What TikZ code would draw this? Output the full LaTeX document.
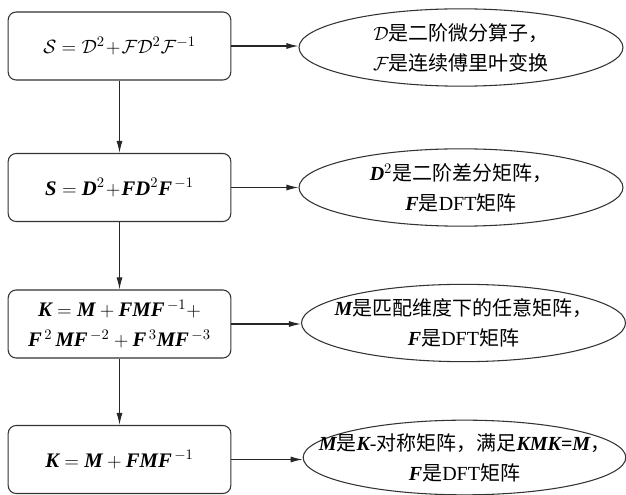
\documentclass[tikz,border=0pt]{standalone}
\usepackage{amsmath}
\usepackage{fontspec}
\setmainfont{Liberation Serif}
\newfontfamily\cjk{Noto Sans CJK SC}
\usetikzlibrary{shapes.geometric,arrows.meta}
\newcommand{\bfit}[1]{\text{\rmfamily\bfseries\itshape #1}}
\newcommand{\mplus}{\mathbin{\!+\!}}
\tikzset{
  stepbox/.style={draw=black!80, line width=0.8pt, rounded corners=6pt,
    minimum width=167pt, minimum height=51pt, inner sep=2pt, align=center,
    font=\fontsize{15.5}{22.5}\selectfont},
  note/.style={draw=black!80, line width=0.8pt, ellipse, inner sep=0pt,
    minimum width=243pt, minimum height=58pt},
  notetext/.style={inner sep=0pt, align=center,
    font=\fontsize{15}{22.5}\selectfont\cjk},
  arr/.style={draw=black!85, line width=0.8pt, -{Latex[length=9pt,width=4.5pt]}}
}
\begin{document}
\begin{tikzpicture}[x=0.75pt,y=-0.75pt]
\useasboundingbox (0,0) rectangle (626,495);
\node[stepbox] (b1) at (119.5,46) {$\mathcal{S}=\mathcal{D}^2\mplus\mathcal{F}\mathcal{D}^2\mathcal{F}^{-1}$};
\node[stepbox] (b2) at (119.5,187.5) {$\bfit{S}=\bfit{D}^2\mplus\bfit{F}\bfit{D}^2\bfit{F}^{\,-1}$};
\node[stepbox] (b3) at (119.5,324) {$\bfit{K}=\bfit{M}+\bfit{FMF}^{\,-1}+$\\$\bfit{F}^{\,2}\,\bfit{MF}^{\,-2}+\bfit{F}^{\,3}\bfit{MF}^{\,-3}$};
\node[stepbox] (b4) at (119.5,459.5) {$\bfit{K}=\bfit{M}+\bfit{FMF}^{\,-1}$};

\node[note] (e1) at (461,47.5) {};
\node[note] (e2) at (461,187.5) {};
\node[note] (e3) at (463.5,323) {};
\node[note, minimum width=242pt, minimum height=56pt] (e4) at (464.5,457.5) {};
\node[notetext] (t1) at (e1.center) {$\mathcal{D}$是二阶微分算子，\\$\mathcal{F}$是连续傅里叶变换};
\node[notetext] (t2) at (e2.center) {\bfit{D}$^2$是二阶差分矩阵，\\\bfit{F}是{\rmfamily DFT}矩阵};
\node[notetext] (t3) at (e3.center) {\bfit{M}是匹配维度下的任意矩阵，\\\bfit{F}是{\rmfamily DFT}矩阵};
\node[notetext] (t4) at (e4.center) {\bfit{M}是\bfit{K}{\rmfamily -}对称矩阵，满足\bfit{KMK}{\rmfamily\bfseries =}\bfit{M}，\\\bfit{F}是{\rmfamily DFT}矩阵};

\draw[arr] (b1.east) -- (b1.east -| e1.west);
\draw[arr] (b2.east) -- (b2.east -| e2.west);
\draw[arr] (b3.east) -- (b3.east -| e3.west);
\draw[arr] (b4.east) -- (b4.east -| e4.west);
\draw[arr] (b1.south) -- (b2.north);
\draw[arr] (b2.south) -- (b3.north);
\draw[arr] (b3.south) -- (b4.north);
\end{tikzpicture}
\end{document}
